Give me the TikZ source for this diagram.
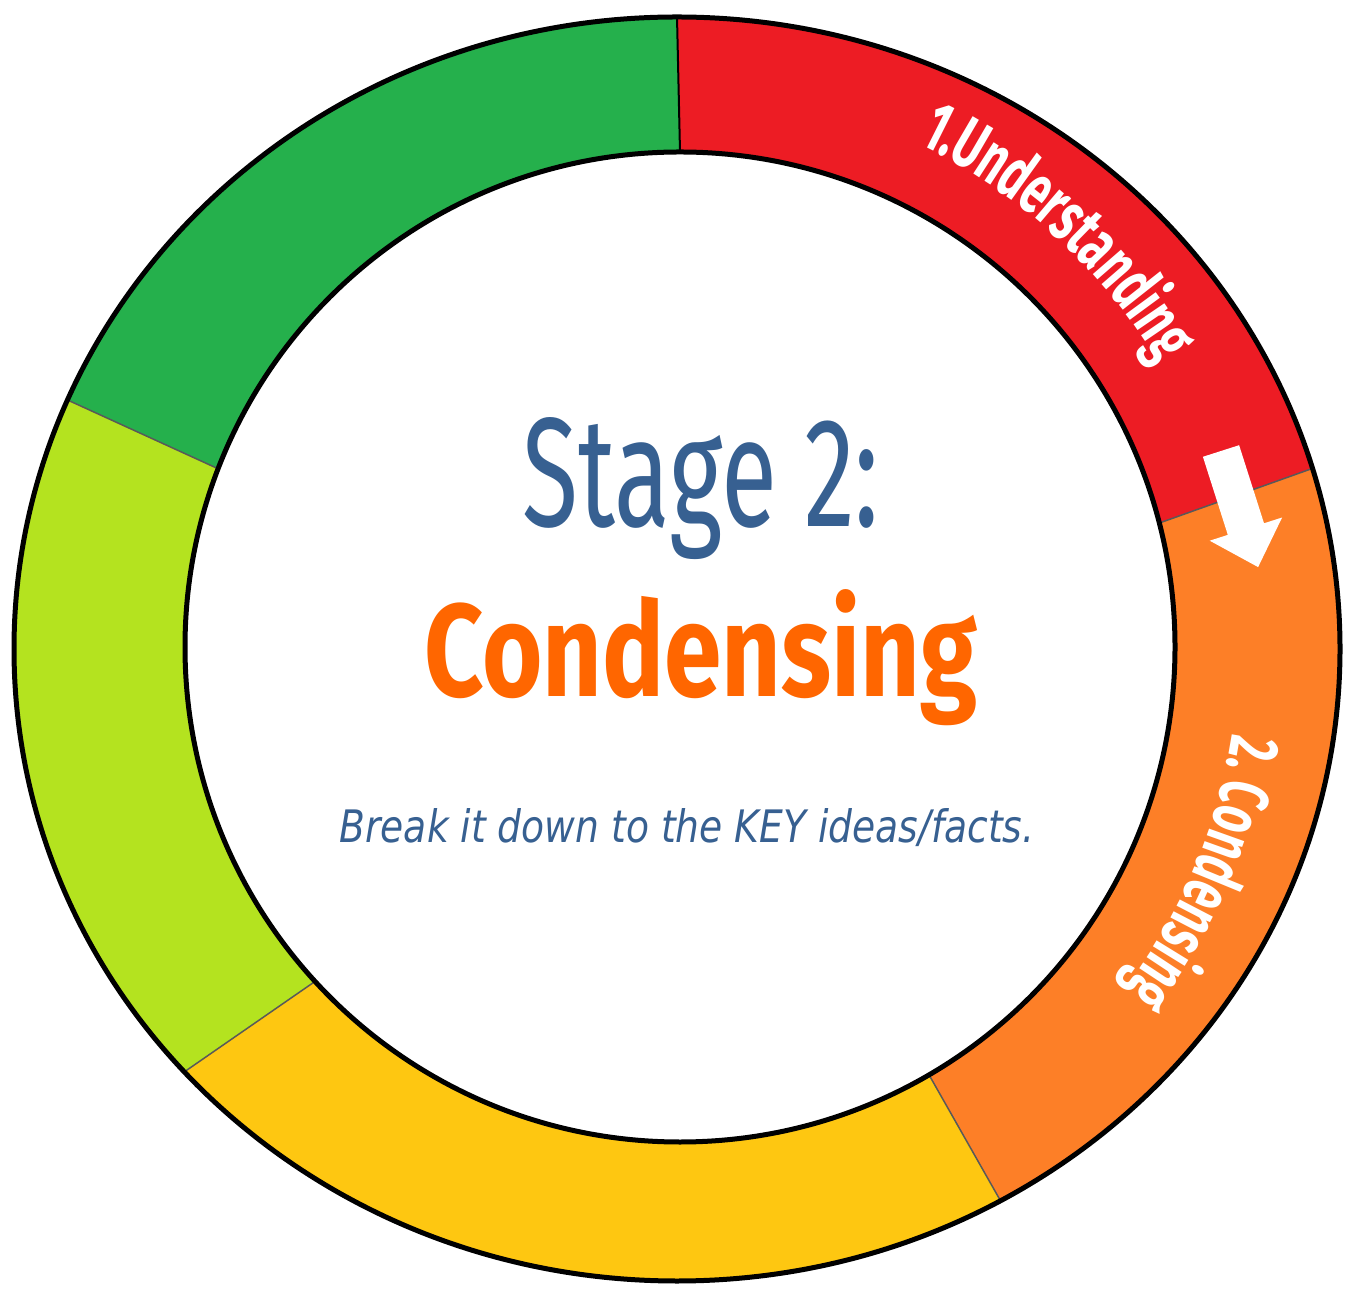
\documentclass[tikz,border=0pt]{standalone}
\usepackage{fontspec}
\usepackage{graphicx}
\usetikzlibrary{calc,decorations.text}
\newfontfamily\condfont[FakeStretch=0.63]{Fira Sans}
\newfontfamily\firaregular{Fira Sans}
\newfontfamily\subfont{DejaVu Sans}
\definecolor{cred}{RGB}{237,28,36}
\definecolor{corange}{RGB}{253,127,39}
\definecolor{cyellow}{RGB}{254,199,17}
\definecolor{clime}{RGB}{180,227,31}
\definecolor{cgreen}{RGB}{37,176,76}
\definecolor{tblue}{RGB}{55,96,145}
\definecolor{torange}{RGB}{255,102,0}
\newcommand\ringseg[5]{\fill[#1] ($(oc)+(#2:663 and 632)$) arc[start angle=#2, end angle=#3, x radius=663, y radius=632] -- ($(ic)+(#4:495)$) arc[start angle=#4, end angle=#5, radius=495] -- cycle;}
\newcommand\arcfont{\condfont\bfseries\fontsize{40}{40}\selectfont}
\tikzset{
  divider/.style={draw=black!65, line width=0.03cm},
  ringline/.style={draw=black, line width=0.1cm},
  arctext/.style={decorate, decoration={text along path, text align=center, text color=white, text={|\arcfont|#1}}}
}
\begin{document}
\begin{tikzpicture}[x=0.02cm,y=0.02cm]
\useasboundingbox (0,0) rectangle (1351,1288);
\coordinate (oc) at (677,639);
\coordinate (ic) at (680,641);
% segments
\ringseg{cred}{90}{16.6}{14.5}{90}
\ringseg{corange}{16.6}{-60.8}{-59.8}{14.5}
\ringseg{cyellow}{-60.8}{-138}{-137.5}{-59.8}
\ringseg{clime}{-138}{-203.2}{-201.1}{-137.5}
\ringseg{cgreen}{-203.2}{-270}{-270}{-201.1}
% dividers
\coordinate (d0o) at ($(oc)+(90:663 and 632)$);
\coordinate (d0i) at ($(ic)+(90:495)$);
\coordinate (d1o) at ($(oc)+(16.6:663 and 632)$);
\coordinate (d1i) at ($(ic)+(14.5:495)$);
\coordinate (d2o) at ($(oc)+(-60.8:663 and 632)$);
\coordinate (d2i) at ($(ic)+(-59.8:495)$);
\coordinate (d3o) at ($(oc)+(-138:663 and 632)$);
\coordinate (d3i) at ($(ic)+(-137.5:495)$);
\coordinate (d4o) at ($(oc)+(-203.2:663 and 632)$);
\coordinate (d4i) at ($(ic)+(-201.1:495)$);
\draw[black, line width=0.04cm] (d0i) -- (d0o);
\draw[divider] (d1i) -- (d1o);
\draw[divider] (d2i) -- (d2o);
\draw[divider] (d3i) -- (d3o);
\draw[divider] (d4i) -- (d4o);
% ring outlines
\draw[ringline] (oc) ellipse [x radius=663, y radius=632];
\draw[ringline] (ic) circle [radius=495];
% arrow
\fill[white] (1239.1,842.8) -- (1202.9,831.2) -- (1227.8,753.1) -- (1209.7,747.3) -- (1258.1,720.9) -- (1282.1,770.5) -- (1264.0,764.7) -- cycle;
% arc labels
\path[arctext={1.Understanding}] ($(oc)+(82.5:560)$) arc[start angle=82.5, end angle=12.5, radius=560];
\path[arctext={2. Condensing}] ($(oc)+(12:562)$) arc[start angle=12, end angle=-58, radius=562];
% centre texts
\node[anchor=base, inner sep=0, text=tblue] (stage) at (701,761) {\resizebox{7.14cm}{2.18cm}{\firaregular Stage 2:}};
\node[anchor=base, inner sep=0, text=torange] (cond) at (701,591) {\resizebox{11.06cm}{2.14cm}{\firaregular\bfseries Condensing}};
\node[anchor=base, inner sep=0, text=tblue] (sub) at (687,445) {\resizebox{13.9cm}{0.68cm}{\subfont\itshape Break it down to the KEY ideas/facts.}};
\end{tikzpicture}
\end{document}
